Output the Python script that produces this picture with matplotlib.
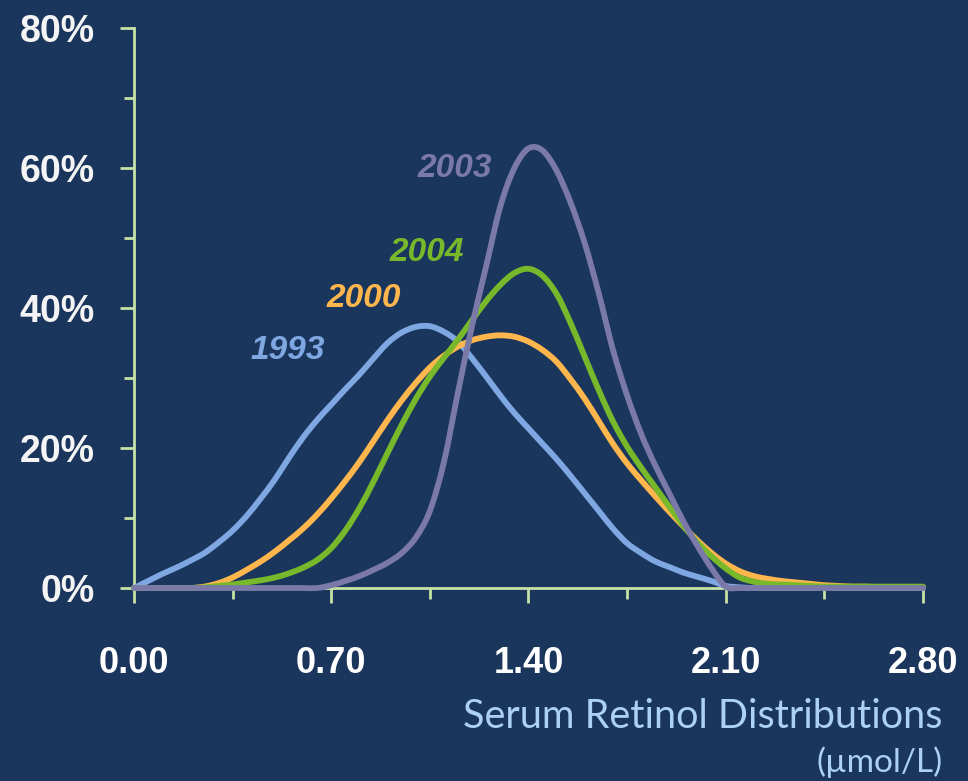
import matplotlib
matplotlib.use("Agg")
import matplotlib.pyplot as plt
from matplotlib.path import Path
from matplotlib.patches import PathPatch
from matplotlib.ticker import MultipleLocator, FuncFormatter

# serum retinol (umol/L), sampled every 0.05
retinol = [0.00, 0.05, 0.10, 0.15, 0.20, 0.25, 0.30, 0.35, 0.40, 0.45,
           0.50, 0.55, 0.60, 0.65, 0.70, 0.75, 0.80, 0.85, 0.90, 0.95,
           1.00, 1.05, 1.10, 1.15, 1.20, 1.25, 1.30, 1.35, 1.40, 1.45,
           1.50, 1.55, 1.60, 1.65, 1.70, 1.75, 1.80, 1.85, 1.90, 1.95,
           2.00, 2.05, 2.10, 2.15, 2.20, 2.25, 2.30, 2.35, 2.40, 2.45,
           2.50, 2.55, 2.60, 2.65, 2.70, 2.75, 2.80]

# share of population (%)
y1993 = [0, 1.0, 2.0, 2.9, 3.9, 5.0, 6.5, 8.2, 10.3, 12.8,
         15.5, 18.6, 21.5, 24.0, 26.2, 28.4, 30.5, 32.8, 35.0, 36.5,
         37.3, 37.4, 36.6, 35.2, 32.8, 30.2, 27.5, 25.0, 22.8, 20.6,
         18.4, 16.0, 13.5, 11.0, 8.5, 6.4, 5.0, 3.8, 3.0, 2.2,
         1.6, 1.0, 0.3, 0.1, 0, 0, 0, 0, 0, 0,
         0, 0, 0, 0, 0, 0, 0]
y2000 = [0, 0, 0, 0, 0, 0.2, 0.7, 1.5, 2.6, 3.8,
         5.2, 6.8, 8.5, 10.5, 12.8, 15.3, 18.0, 21.0, 24.0, 26.8,
         29.3, 31.5, 33.2, 34.5, 35.4, 35.9, 36.1, 35.9, 35.2, 34.0,
         32.3, 29.8, 27.0, 23.8, 20.6, 17.8, 15.4, 13.1, 10.9, 8.8,
         6.8, 5.0, 3.5, 2.4, 1.7, 1.3, 1.0, 0.8, 0.6, 0.4,
         0.3, 0.2, 0.2, 0.1, 0.1, 0.1, 0.1]
y2004 = [0, 0, 0, 0, 0, 0.1, 0.3, 0.5, 0.8, 1.1,
         1.5, 2.1, 2.9, 4.0, 5.7, 8.2, 11.4, 15.2, 19.3, 23.3,
         27.0, 30.2, 32.9, 35.5, 38.3, 41.0, 43.3, 45.0, 45.6, 44.6,
         42.0, 37.8, 33.0, 28.2, 23.8, 20.2, 17.2, 14.4, 11.6, 8.9,
         6.5, 4.5, 2.8, 1.5, 0.9, 0.6, 0.5, 0.4, 0.3, 0.2,
         0.2, 0.2, 0.2, 0.2, 0.2, 0.2, 0.2]
y2003 = [0, 0, 0, 0, 0, 0, 0, 0, 0, 0,
         0, 0, 0, 0, 0.4, 1.0, 1.7, 2.6, 3.6, 5.0,
         7.2, 11.0, 18.0, 28.0, 37.5, 46.0, 54.5, 60.0, 62.8, 62.5,
         59.6, 55.0, 49.2, 42.0, 34.0, 27.5, 22.0, 17.5, 13.5, 9.5,
         6.0, 2.8, 0.2, 0, 0, 0, 0, 0, 0, 0,
         0, 0, 0, 0, 0, 0, 0]

x_ticks = [0.00, 0.70, 1.40, 2.10, 2.80]
y_ticks = [0, 20, 40, 60, 80]

bg = "#1a365d"
axis_col = "#c6e2a6"
colors = {"1993": "#7fa7e2", "2000": "#ffb64c", "2004": "#78b92b", "2003": "#7a79a7"}


def smooth_path(xs, ys):
    # smoothed line like the spreadsheet's "smooth line" option (Catmull-Rom as Bezier)
    n = len(xs)
    verts = [(xs[0], ys[0])]
    codes = [Path.MOVETO]
    for i in range(n - 1):
        i0, i3 = max(i - 1, 0), min(i + 2, n - 1)
        c1 = (xs[i] + (xs[i + 1] - xs[i0]) / 6, ys[i] + (ys[i + 1] - ys[i0]) / 6)
        c2 = (xs[i + 1] - (xs[i3] - xs[i]) / 6, ys[i + 1] - (ys[i3] - ys[i]) / 6)
        verts += [c1, c2, (xs[i + 1], ys[i + 1])]
        codes += [Path.CURVE4] * 3
    return Path(verts, codes)


fig = plt.figure(figsize=(9.68, 7.81), dpi=100, facecolor=bg)
ax = fig.add_axes([0.1384, 0.2471, 0.8151, 0.7170])
ax.set_facecolor(bg)

for year, vals in [("1993", y1993), ("2000", y2000), ("2004", y2004), ("2003", y2003)]:
    patch = PathPatch(smooth_path(retinol, vals), facecolor="none", edgecolor=colors[year],
                      lw=4.2, zorder=3, clip_on=False, capstyle="round", joinstyle="round")
    ax.add_patch(patch)

ax.set_xlim(0, 2.8)
ax.set_ylim(0, 80)
ax.set_xticks(x_ticks)
ax.set_yticks(y_ticks)
ax.xaxis.set_minor_locator(MultipleLocator(0.35))
ax.yaxis.set_minor_locator(MultipleLocator(10))
ax.xaxis.set_major_formatter(FuncFormatter(lambda v, p: f"{v:.2f}"))
ax.yaxis.set_major_formatter(FuncFormatter(lambda v, p: f"{v:.0f}%"))

for side in ["top", "right"]:
    ax.spines[side].set_visible(False)
for side in ["left", "bottom"]:
    ax.spines[side].set_color(axis_col)
    ax.spines[side].set_linewidth(2)

ax.tick_params(axis="x", which="major", direction="out", length=11, width=2,
               color=axis_col, pad=31)
ax.tick_params(axis="x", which="minor", direction="out", length=8, width=2, color=axis_col)
ax.tick_params(axis="y", which="major", direction="out", length=10, width=2,
               color=axis_col, pad=18)
ax.tick_params(axis="y", which="minor", direction="out", length=7, width=2, color=axis_col)

for lab in ax.get_xticklabels():
    lab.set_fontfamily(["Liberation Sans", "DejaVu Sans"])
    lab.set_fontweight("bold")
    lab.set_fontsize(26)
    lab.set_color("white")
for lab in ax.get_yticklabels():
    lab.set_fontfamily(["Liberation Sans", "DejaVu Sans"])
    lab.set_fontweight("bold")
    lab.set_fontsize(27)
    lab.set_color("#f4f4f4")

# series labels
label_pos = {"1993": (0.547, 34.0), "2000": (0.814, 41.4),
             "2004": (1.038, 48.0), "2003": (1.137, 60.0)}
for year, (lx, ly) in label_pos.items():
    ax.text(lx, ly, year, color=colors[year], fontsize=24, fontweight="bold",
            fontstyle="italic", family=["Liberation Sans", "DejaVu Sans"],
            ha="center", va="center", zorder=4)

fig.text(0.974, 0.083, "Serum Retinol Distributions", color="#acd0f6",
         fontsize=28.5, family=["Lato", "DejaVu Sans"], ha="right", va="center")
fig.text(0.974, 0.024, "(\u00b5mol/L)", color="#acd0f6",
         fontsize=24, family=["Lato", "DejaVu Sans"], ha="right", va="center")

fig.savefig("out.png", dpi=100, facecolor=bg)
